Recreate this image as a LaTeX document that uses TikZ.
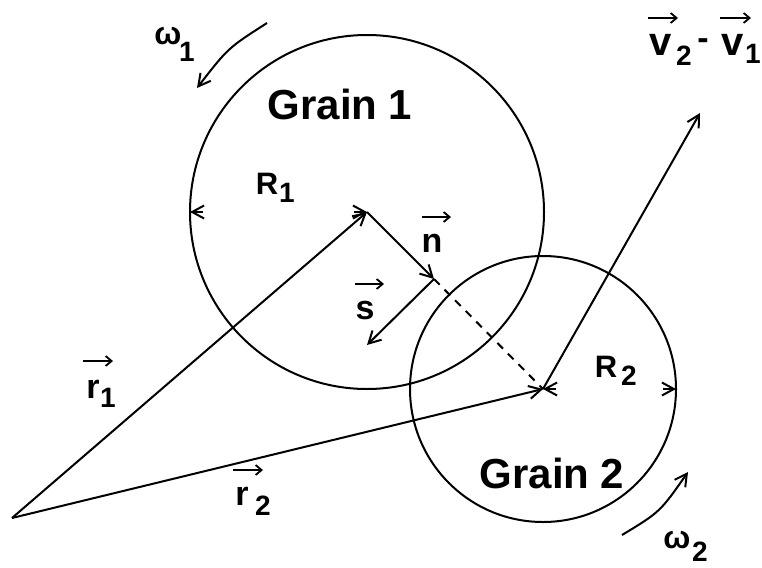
\documentclass[tikz,border=0pt]{standalone}
\usepackage{fontspec}
\setmainfont{Liberation Sans}
\usetikzlibrary{arrows.meta}
\tikzset{
  vec/.style={line width=2pt, -{Straight Barb[length=12pt,width=13pt,line width=2pt]}},
  rim/.style={line width=2pt},
  varr/.style={line width=1.8pt, -{Straight Barb[length=6pt,width=10pt,line width=1.8pt]}},
  title/.style={inner sep=0pt, font=\fontsize{42}{42}\selectfont\bfseries},
  letter/.style={inner sep=0pt, font=\fontsize{34}{34}\selectfont\bfseries},
  bigletter/.style={inner sep=0pt, font=\fontsize{40}{40}\selectfont\bfseries},
  capl/.style={inner sep=0pt, font=\fontsize{31}{31}\selectfont\bfseries},
  subs/.style={inner sep=0pt, font=\fontsize{28}{28}\selectfont\bfseries},
  greek/.style={inner sep=0pt, font=\fontsize{32}{32}\selectfont\bfseries},
}
\begin{document}
\begin{tikzpicture}[x=1pt,y=-1pt]
\useasboundingbox (0,0) rectangle (762,567);
% key points
\coordinate (O) at (12,518);
\coordinate (C1) at (367,212);
\coordinate (C2) at (543,389);
\coordinate (N) at (434,279);
\coordinate (S) at (367,345);
\coordinate (V) at (700,113);
\coordinate (E1) at (190,212);
\coordinate (E2) at (676,389);
% grains
\draw[rim] (C1) circle[radius=177pt];
\draw[rim] (C2) circle[radius=133pt];
% vectors
\draw[vec] (O) -- (C1);
\draw[vec] (O) -- (C2);
\draw[vec] (C1) -- (N);
\draw[vec] (N) -- (S);
\draw[line width=2pt, dash pattern=on 8pt off 7pt] (N) -- (C2);
\draw[vec] (C2) -- (V);
% radii
\draw[vec] ([xshift=13pt]E1) -- (E1);
\draw[vec] ([xshift=-13pt]C1) -- (C1);
\draw[vec] ([xshift=13pt]C2) -- (C2);
\draw[vec] ([xshift=-13pt]E2) -- (E2);
% rotations
\coordinate (W1a) at (267,23);
\coordinate (W1b) at (197,88);
\draw[vec] (W1a) .. controls (228,48) .. (W1b);
\coordinate (W2a) at (622,535);
\coordinate (W2b) at (688,472);
\draw[vec] (W2a) .. controls (660,512) .. (W2b);
% labels
\node[title] (g1) at (340,104) {Grain 1};
\node[title] (g2) at (552,473) {Grain 2};
\node[capl] (R1) at (267,184) {R};
\node[subs] (R1s) at (287,193) {1};
\node[capl] (R2) at (606,367) {R};
\node[subs] (R2s) at (629,376) {2};
\node[letter] (nl) at (432,243) {n};
\draw[varr] (nl) ++(-10,-26) -- ++(29,0);
\node[letter] (sl) at (365,311) {s};
\draw[varr] (sl) ++(-10,-27) -- ++(29,0);
\node[letter] (r1l) at (93,389) {r};
\node[subs] (r1s) at (108,398) {1};
\draw[varr] (r1l) ++(-10,-28) -- ++(30,0);
\node[letter] (r2l) at (242,496) {r};
\node[subs] (r2s) at (263,506) {2};
\draw[varr] (r2l) ++(-9,-26) -- ++(30,0);
\node[bigletter] (v2l) at (661,45) {v};
\node[subs] (v2s) at (684,56) {2};
\node[letter] (minus) at (703,44) {-};
\node[bigletter] (v1l) at (733,45) {v};
\node[subs] (v1s) at (753,54) {1};
\draw[varr] (v2l) ++(-13,-27) -- ++(30,0);
\draw[varr] (v1l) ++(-13,-27) -- ++(31,0);
\node[greek] (w1) at (168,36) {ω};
\node[subs] (w1s) at (187,52) {1};
\node[greek] (w2) at (677,540) {ω};
\node[subs] (w2s) at (700,552) {2};
\end{tikzpicture}
\end{document}
